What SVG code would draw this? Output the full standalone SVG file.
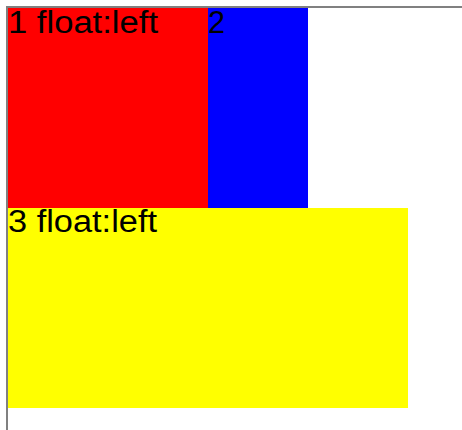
<svg xmlns="http://www.w3.org/2000/svg" width="462" height="430" viewBox="0 0 462 430">
<style>
.lbl{font-family:"Liberation Sans","DejaVu Sans",sans-serif;font-size:31px;fill:#000}
</style>
<rect width="462" height="430" fill="#fff"/>
<g id="container">
<rect x="6" y="6" width="456" height="2" fill="#808080"/>
<rect x="6" y="6" width="2" height="424" fill="#808080"/>
</g>
<g id="box1">
<rect x="8" y="8" width="200" height="200" fill="#ff0000"/>
<text class="lbl" x="8" y="33" textLength="150" lengthAdjust="spacingAndGlyphs">1 float:left</text>
</g>
<g id="box2">
<rect x="208" y="8" width="100" height="200" fill="#0000ff"/>
<text class="lbl" x="208" y="33" textLength="17" lengthAdjust="spacingAndGlyphs">2</text>
</g>
<g id="box3">
<rect x="8" y="208" width="400" height="200" fill="#ffff00"/>
<text class="lbl" x="8" y="232" textLength="149" lengthAdjust="spacingAndGlyphs">3 float:left</text>
</g>
<g id="connectors"/>
</svg>
